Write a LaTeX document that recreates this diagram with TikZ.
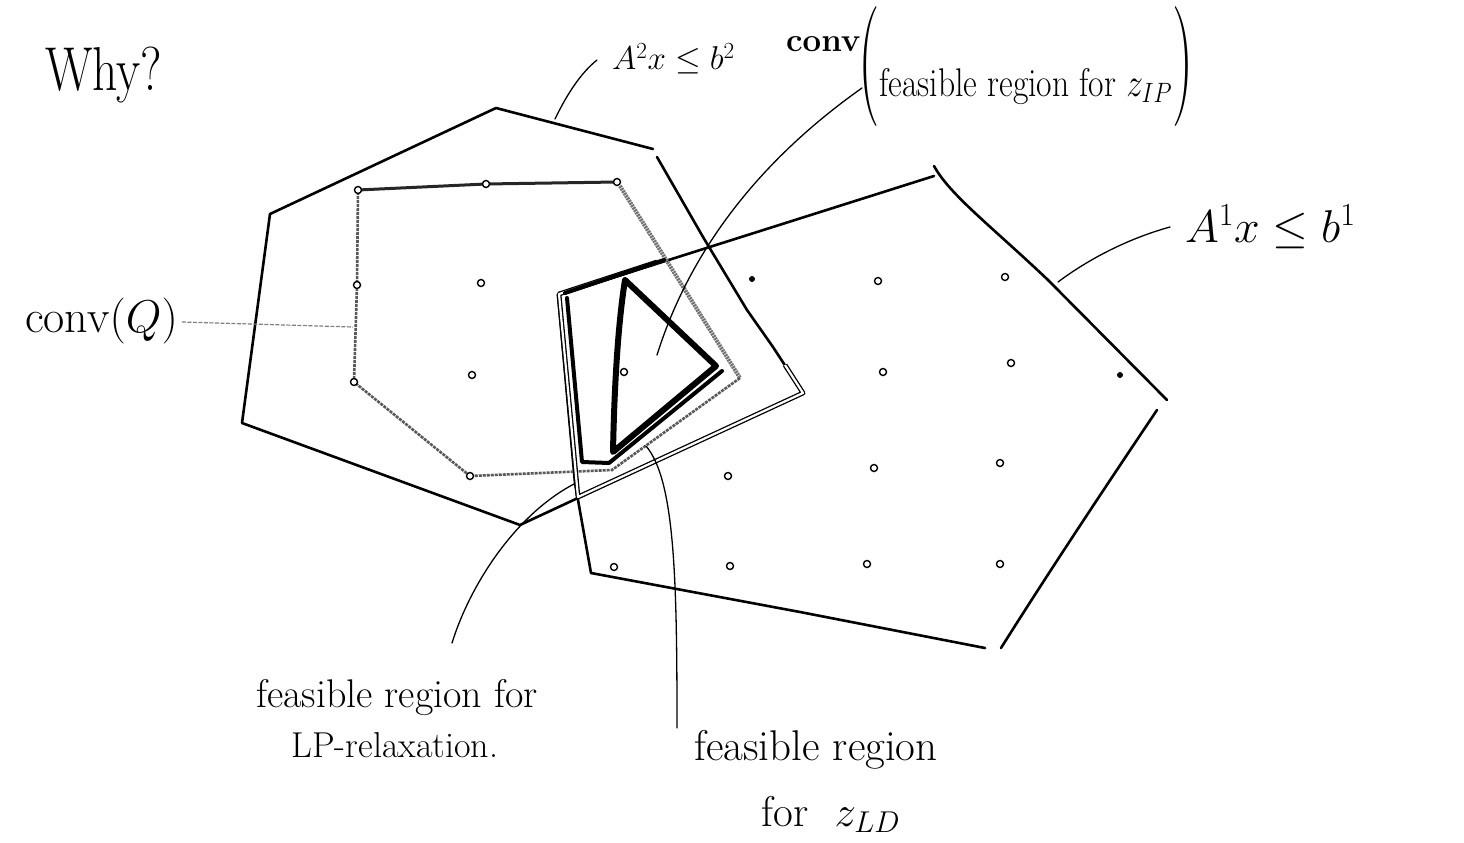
\RequirePackage{fix-cm}
\documentclass[tikz,border=0pt]{standalone}
\usepackage{graphicx}
\usepackage{amssymb}
\tikzset{
  edge/.style={line width=2.6pt, line join=round, line cap=round},
  thinlead/.style={line width=1.3pt, line cap=round},
  lpdouble/.style={double=white, double distance=2.2pt, line width=1.3pt, line join=round},
  zld/.style={line width=4pt, line join=round, line cap=round},
  tri/.style={line width=6pt, line join=round, line cap=round},
  qtop/.style={line width=3pt, black!85, line cap=round},
  qside/.style={line width=2.6pt, black!65, dash pattern=on 3pt off 1pt},
  qright/.style={line width=4pt, black!55, dash pattern=on 2pt off 0.8pt},
  opendot/.style={circle, draw, line width=1.4pt, fill=white, inner sep=0pt, minimum size=7pt},
  fulldot/.style={circle, fill=black, inner sep=0pt, minimum size=6pt},
  hand/.style={inner sep=0pt, text=black},
  qlead/.style={gray, line width=1.2pt, dash pattern=on 4pt off 1.5pt},
}
\newcommand{\bigparen}[1]{\scalebox{0.5}[1]{\fontsize{120}{120}\selectfont #1}}
\begin{document}
\begin{tikzpicture}[x=1pt,y=-1pt]
\useasboundingbox (0,0) rectangle (1464,843);
\fill[white] (0,0) rectangle (1464,843);

% polygon A^2 x <= b^2
\draw[edge] (270,214) -- (496,108) -- (653,149);
\draw[edge] (657,157) -- (703,237) -- (747,310) -- (773,347) -- (803,393) -- (520,525) -- (242,423) -- (270,214);

% polygon A^1 x <= b^1
\draw[edge] (591,573) -- (575,483) -- (558,295) -- (934,176);
\draw[edge] (934,166) .. controls (950,195) and (990,225) .. (1048,280) -- (1167,400);
\draw[edge] (1157,410) .. controls (1110,480) and (1050,570) .. (1001,648);
\draw[edge] (985,648) -- (800,612) -- (591,573);

% conv(Q)
\draw[qtop] (358,190) -- (486,184) -- (617,182);
\draw[qright] (620,186) -- (740,378);
\draw[qside] (740,378) -- (612,470) -- (470,476) -- (354,382) -- (357,285) -- (358,190);

% LP relaxation region (double outline)
\draw[lpdouble] (657,262) -- (559,294) -- (578,497) -- (803,393) -- (785,365);

% z_LD region (bold)
\draw[zld] (565,293) -- (664,260);
\draw[zld] (567,298) -- (582,462) -- (609,463) -- (722,371);

% conv(feasible region for z_IP) triangle
\draw[tri] (625,280) -- (716,366) -- (613,452) .. controls (614,400) and (617,330) .. (625,280);

% integer points
\foreach \n/\p in {1/{(358,190)},2/{(486,184)},3/{(617,182)},4/{(357,285)},5/{(354,382)},6/{(470,476)},
  7/{(481,283)},8/{(472,375)},9/{(624,372)},10/{(878,281)},11/{(1005,277)},12/{(883,372)},
  13/{(1011,363)},14/{(728,476)},15/{(874,468)},16/{(1000,463)},17/{(614,567)},18/{(730,566)},
  19/{(867,564)},20/{(1000,564)}}
  \node[opendot] (d\n) at \p {};
\node[fulldot] (f1) at (752,279) {};
\node[fulldot] (f2) at (1120,375) {};

% labels
\node[hand, anchor=base west, font=\fontsize{62}{62}\selectfont] (why) at (45,90) {\scalebox{0.8}[1]{Why?}};
\node[hand, anchor=base west, font=\fontsize{33}{33}\selectfont] (lblAtwo) at (612,70) {$A^2x\le b^2$};
\node[hand, anchor=base west, font=\bfseries\fontsize{33}{33}\selectfont] (lblconv) at (786,52) {conv};
\node[hand, anchor=base west] (lblIP) at (858,96)
  {\bigparen{(}{\fontsize{40}{40}\selectfont\scalebox{0.84}[1]{feasible region for $z_{IP}$}}\bigparen{)}};
\node[hand, anchor=base west, font=\fontsize{46}{46}\selectfont] (lblAone) at (1185,242) {$A^1x\le b^1$};
\node[hand, anchor=base east, font=\fontsize{46}{46}\selectfont] (lblQ) at (178,332) {conv$(Q)$};
\node[hand, anchor=base, font=\fontsize{40}{40}\selectfont] (lblLPa) at (397,707) {feasible region for};
\node[hand, anchor=base, font=\fontsize{36}{36}\selectfont] (lblLPb) at (395,757) {LP-relaxation.};
\node[hand, anchor=base, font=\fontsize{43}{43}\selectfont] (lblLDa) at (816,760) {feasible region};
\node[hand, anchor=base, font=\fontsize{43}{43}\selectfont] (lblLDb) at (831,826) {for\ \ $z_{LD}$};

% leader lines
\coordinate (cAtwoa) at (555,119);
\coordinate (cAtwob) at (597,60);
\draw[thinlead] (cAtwoa) .. controls (568,92) and (582,72) .. (cAtwob);
\coordinate (cAonea) at (1058,282);
\coordinate (cAoneb) at (1170,227);
\draw[thinlead] (cAonea) .. controls (1090,258) and (1130,238) .. (cAoneb);
\coordinate (cQa) at (182,322);
\coordinate (cQb) at (353,327);
\draw[qlead] (cQa) -- (cQb);
\coordinate (cIPa) at (862,88);
\coordinate (cIPb) at (657,355);
\draw[thinlead] (cIPa) .. controls (760,160) and (690,250) .. (cIPb);
\coordinate (cLPa) at (452,643);
\coordinate (cLPb) at (574,484);
\draw[thinlead] (cLPa) .. controls (470,585) and (515,515) .. (cLPb);
\coordinate (cLDa) at (677,728);
\coordinate (cLDb) at (646,446);
\draw[thinlead] (cLDa) .. controls (677,580) and (675,480) .. (cLDb);
\end{tikzpicture}
\end{document}
